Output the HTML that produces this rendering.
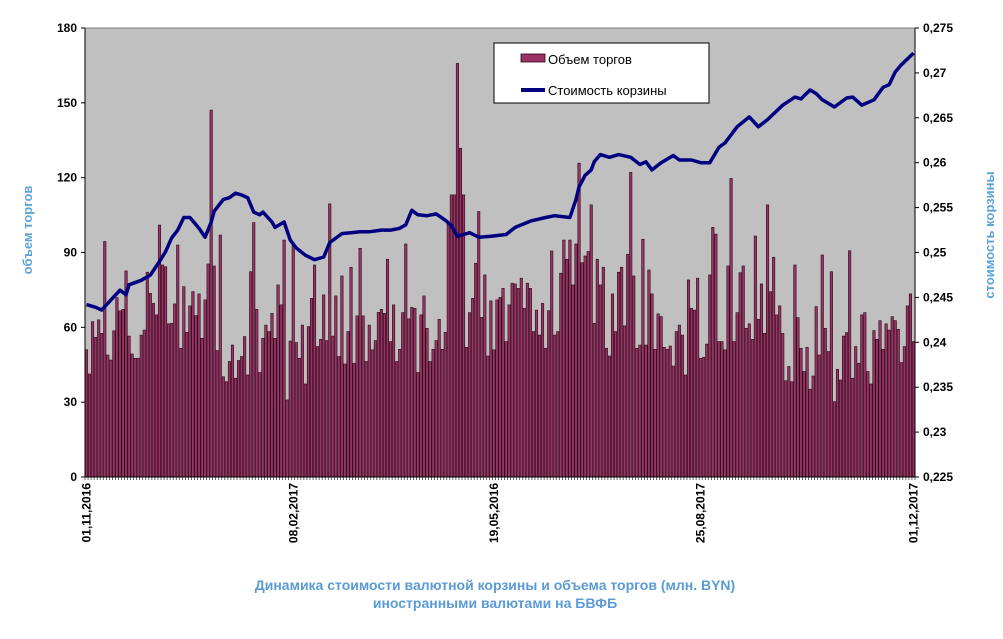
<!DOCTYPE html>
<html><head><meta charset="utf-8"><style>
body{margin:0;background:#fff;}
svg text{font-family:"Liberation Sans",sans-serif;}
</style></head><body>
<svg id="chart" width="1003" height="634" xmlns="http://www.w3.org/2000/svg">
<rect x="85" y="28" width="830" height="449" fill="#c0c0c0"/>
<line x1="85" y1="28" x2="915" y2="28" stroke="#808080" stroke-width="1"/>
<g id="bars"></g>
<g id="line"></g>
<g id="axes"></g>
<text transform="translate(32,230) rotate(-90)" text-anchor="middle" font-size="13" font-weight="bold" fill="#5ba3d9">объем торгов</text>
<text transform="translate(994,235) rotate(-90)" text-anchor="middle" font-size="13" font-weight="bold" fill="#5ba3d9">стоимость  корзины</text>
<text x="495" y="590" text-anchor="middle" font-size="14" font-weight="bold" fill="#5b9bd5">Динамика  стоимости валютной корзины и объема торгов (млн. BYN)</text>
<text x="495" y="608" text-anchor="middle" font-size="14" font-weight="bold" fill="#5b9bd5">иностранными валютами на БВФБ</text>
<g>
<rect x="494" y="43" width="215" height="60" fill="#fff" stroke="#000" stroke-width="1"/>
<rect x="521" y="54" width="24" height="8" fill="#993366" stroke="#2a0a15" stroke-width="0.8"/>
<text x="548" y="64" font-size="13" fill="#000">Объем торгов</text>
<line x1="521" y1="90" x2="545" y2="90" stroke="#000080" stroke-width="4"/>
<text x="548" y="95" font-size="13" fill="#000">Стоимость корзины</text>
</g>
</svg>
<script>
const volumes=[51.0,41.3,62.3,56.0,63.0,57.6,94.4,48.9,46.9,58.6,71.9,66.6,67.2,82.6,56.5,49.3,47.6,47.6,56.9,58.9,82.1,73.6,69.6,65.0,101.0,85.0,84.3,61.4,61.6,69.4,93.0,51.6,76.3,58.0,68.6,74.3,64.7,73.4,55.6,71.0,85.4,147.1,84.6,50.7,97.0,40.2,38.2,46.3,52.9,39.6,46.7,48.3,56.3,40.9,82.3,102.0,67.2,41.9,55.6,60.9,58.3,65.6,55.6,77.0,69.0,95.0,30.9,54.5,93.7,53.9,47.6,60.9,
37.3,60.3,71.6,85.0,52.3,55.2,73.0,54.7,109.5,56.5,72.6,48.3,80.6,45.3,58.3,84.1,45.6,64.6,91.7,64.6,46.3,60.9,51.0,54.7,66.0,67.2,65.6,87.3,54.3,69.0,46.3,51.2,65.9,93.4,63.4,68.0,67.6,41.9,65.0,72.6,59.6,46.3,51.2,54.7,63.2,51.2,58.0,101.4,113.1,113.1,165.8,131.8,113.1,52.0,65.9,71.6,85.7,106.4,64.0,81.0,48.5,70.6,51.0,71.0,72.0,75.6,54.3,69.0,77.7,
77.4,75.6,79.7,67.6,77.7,75.6,58.3,66.9,56.9,69.6,51.6,66.7,90.6,56.9,58.3,81.7,95.0,87.3,95.0,77.0,93.4,125.8,85.9,88.6,90.4,109.1,61.6,87.3,77.0,84.1,51.6,48.5,73.4,58.3,82.1,84.1,60.6,89.3,122.1,80.6,51.6,52.9,95.3,52.9,83.0,73.4,51.2,65.4,64.3,52.0,51.2,52.5,44.5,58.3,60.9,56.9,40.9,79.0,67.6,66.9,79.7,47.6,48.0,53.3,81.0,100.1,97.4,
54.3,54.3,51.0,84.6,119.7,54.3,65.9,81.9,84.6,59.6,61.4,55.2,96.6,63.2,77.4,57.6,109.1,74.3,88.1,65.0,68.6,57.6,38.6,44.3,38.2,85.0,63.9,51.6,42.3,52.0,35.2,40.5,68.3,48.9,89.0,59.6,50.3,82.3,30.2,43.2,38.9,56.5,57.9,90.7,39.6,52.3,45.6,65.0,65.9,42.3,37.3,58.7,55.2,62.7,51.2,61.4,58.9,64.3,62.7,59.2,45.9,52.3,68.6,73.4,54.3];
const basketIdx=[0,3,5,8,11,13,14,18,21,24,26,28,30,32,34,37,39,41,42,45,47,49,51,53,55,57,58,61,62,65,67,69,72,75,78,80,84,87,90,93,97,100,103,105,107,109,112,115,118,120,122,124,126,129,133,138,141,146,151,154,159,161,162,164,166,167,169,172,175,179,182,184,186,189,193,195,199,202,205,208,210,214,218,221,224,229,233,235,238,240,242,246,250,252,255,259,262,264,266,268,272];
const basketVal=[0.2442,0.2439,0.2436,0.2447,0.2458,0.2453,0.2464,0.2469,0.2475,0.2490,0.2501,0.2516,0.2525,0.2539,0.2539,0.2527,0.2517,0.2534,0.2546,0.2559,0.2561,0.2566,0.2564,0.2561,0.2545,0.2542,0.2545,0.2534,0.2528,0.2534,0.2514,0.2505,0.2497,0.2492,0.2495,0.2511,0.2521,0.2522,0.2523,0.2523,0.2525,0.2525,0.2527,0.2531,0.2547,0.2542,0.2541,0.2543,0.2536,0.2530,0.2518,0.2520,0.2522,0.2517,0.2518,0.2520,0.2528,0.2535,0.2539,0.2541,0.2539,0.2559,0.2573,0.2586,0.2592,0.2601,0.2609,0.2606,0.2609,0.2606,0.2598,0.2601,0.2592,0.2600,0.2608,0.2603,0.2603,0.2600,0.2600,0.2617,0.2622,0.2640,0.2651,0.2640,0.2648,0.2664,0.2673,0.2671,0.2681,0.2677,0.2670,0.2662,0.2672,0.2673,0.2664,0.2670,0.2684,0.2687,0.2701,0.2709,0.2722];
const leftTicks=[0,30,60,90,120,150,180];
const rightTicks=["0,225","0,23","0,235","0,24","0,245","0,25","0,255","0,26","0,265","0,27","0,275"];
const dateLabels=["01,11,2016","08,02,2017","19,05,2016","25,08,2017","01,12,2017"];
const dateIdx=[0,68,134,202,272];

const NS="http://www.w3.org/2000/svg";
const X0=85,X1=915,Y0=477,Y1=28;
const n=volumes.length, step=(X1-X0)/n;
const xBand=i=>X0+i*step;
const yL=v=>Y0-(v/180)*(Y0-Y1);
const yR=v=>Y0-((v-0.225)/0.05)*(Y0-Y1);
function mk(tag,attrs,parent){const e=document.createElementNS(NS,tag);for(const k in attrs)e.setAttribute(k,attrs[k]);parent.appendChild(e);return e;}
const gb=document.getElementById('bars');
volumes.forEach((v,i)=>{
 const r=mk('rect',{x:xBand(i)+0.3,y:yL(v),width:step-0.6,height:Y0-yL(v),fill:'#993366',stroke:'#2a0a15','stroke-width':0.6},gb);
 
 
});
const gl=document.getElementById('line');
const pts=basketIdx.map((k,j)=>(xBand(k)+step/2).toFixed(1)+','+yR(basketVal[j]).toFixed(1)).join(' ');
const pl=mk('polyline',{points:pts,fill:'none',stroke:'#000080','stroke-width':3.5,'stroke-linejoin':'round'},gl);


const ga=document.getElementById('axes');
mk('line',{x1:X0,y1:Y1,x2:X0,y2:Y0,stroke:'#000'},ga);
mk('line',{x1:X1,y1:Y1,x2:X1,y2:Y0,stroke:'#000'},ga);
mk('line',{x1:X0,y1:Y0,x2:X1,y2:Y0,stroke:'#000'},ga);
leftTicks.forEach(t=>{const y=yL(t);mk('line',{x1:X0-4,y1:y,x2:X0,y2:y,stroke:'#000'},ga);
 const tx=mk('text',{x:X0-8,y:y+4,'text-anchor':'end','font-size':12,'font-weight':'bold'},ga);tx.textContent=t;
 
 });
rightTicks.forEach((t,i)=>{const v=0.225+i*0.005,y=yR(v);mk('line',{x1:X1,y1:y,x2:X1+4,y2:y,stroke:'#000'},ga);
 const tx=mk('text',{x:X1+8,y:y+4,'font-size':12,'font-weight':'bold'},ga);tx.textContent=t;
 
 });
for(let i=0;i<=n;i++){mk('line',{x1:xBand(i),y1:Y0,x2:xBand(i),y2:Y0+3,stroke:'#000','stroke-width':0.6},ga);}
dateLabels.forEach((d,j)=>{const x=xBand(dateIdx[j])+step/2+4;
 const tx=mk('text',{transform:`translate(${x.toFixed(1)},${Y0+6}) rotate(-90)`,'text-anchor':'end','font-size':12,'font-weight':'bold'},ga);tx.textContent=d;
 
 });
</script>
</body></html>
